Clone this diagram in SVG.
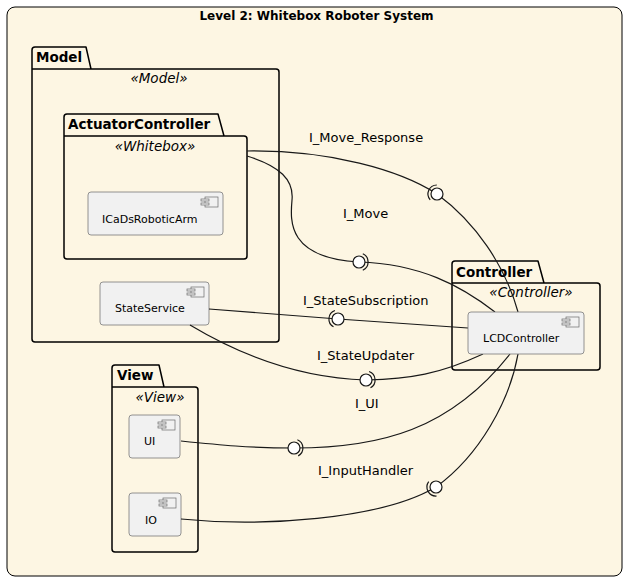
<svg xmlns="http://www.w3.org/2000/svg" width="629" height="581" viewBox="0 0 629 581">
<style>
.pkg{fill:none;stroke:#000;stroke-width:1.5;stroke-linejoin:round}
.comp{fill:#F1F1F1;stroke:#7a7a7a;stroke-width:0.8}
.icon rect{fill:#F1F1F1;stroke:#6a6a6a;stroke-width:0.7}
.pn{font-family:"DejaVu Sans",sans-serif;font-weight:bold;font-size:13.5px;fill:#000}
.st{font-family:"DejaVu Sans",sans-serif;font-style:italic;font-size:13.5px;fill:#000;text-anchor:middle}
.ct{font-family:"DejaVu Sans",sans-serif;font-size:11px;fill:#000}
.lb{font-family:"DejaVu Sans",sans-serif;font-size:13px;fill:#000}
.ln{fill:none;stroke:#181818;stroke-width:1.2}
.ball{fill:#fff;stroke:#181818;stroke-width:1.2}
</style>
<defs>
<g id="icon" class="icon"><rect x="0" y="0" width="13" height="10"/><rect x="-4" y="2" width="8" height="2"/><rect x="-4" y="6" width="8" height="2"/></g>
</defs>
<rect x="7" y="7" width="615" height="569" rx="8" fill="#FDF6E3" stroke="#000" stroke-width="1"/>
<text x="316.5" y="20" text-anchor="middle" font-family="DejaVu Sans, sans-serif" font-weight="bold" font-size="12px">Level 2: Whitebox Roboter System</text>

<g id="Model">
<path class="pkg" d="M32,69 L32,50 Q32,47 35,47 L86,47 L91,69 L276,69 Q279,69 279,72 L279,339 Q279,342 276,342 L35,342 Q32,342 32,339 Z M32,69 L91,69"/>
<text class="pn" x="36" y="62">Model</text>
<text class="st" x="159" y="83">«Model»</text>
</g>
<g id="ActuatorController">
<path class="pkg" d="M64,136 L64,117 Q64,114 67,114 L218,114 L224,136 L244,136 Q247,136 247,139 L247,256 Q247,259 244,259 L67,259 Q64,259 64,256 Z M64,136 L224,136"/>
<text class="pn" x="68" y="129">ActuatorController</text>
<text class="st" x="155" y="151">«Whitebox»</text>
</g>
<g id="ICaDsRoboticArm">
<rect class="comp" x="88" y="192" width="135" height="43" rx="3"/>
<use href="#icon" x="205" y="197"/>
<text class="ct" x="102" y="223">ICaDsRoboticArm</text>
</g>
<g id="StateService">
<rect class="comp" x="100" y="282" width="109" height="43" rx="3"/>
<use href="#icon" x="191" y="287"/>
<text class="ct" x="115" y="312">StateService</text>
</g>
<g id="View">
<path class="pkg" d="M112,387 L112,368 Q112,365 115,365 L159,365 L164,387 L195,387 Q198,387 198,390 L198,549 Q198,552 195,552 L115,552 Q112,552 112,549 Z M112,387 L164,387"/>
<text class="pn" x="117" y="380">View</text>
<text class="st" x="160" y="402">«View»</text>
</g>
<g id="UI">
<rect class="comp" x="129" y="415" width="51" height="43" rx="3"/>
<use href="#icon" x="162" y="420"/>
<text class="ct" x="144" y="445">UI</text>
</g>
<g id="IO">
<rect class="comp" x="129" y="493" width="52" height="43" rx="3"/>
<use href="#icon" x="163" y="498"/>
<text class="ct" x="145" y="524">IO</text>
</g>
<g id="Controller">
<path class="pkg" d="M452,283 L452,264 Q452,261 455,261 L538,261 L544,283 L597,283 Q600,283 600,286 L600,367 Q600,370 597,370 L455,370 Q452,370 452,367 Z M452,283 L544,283"/>
<text class="pn" x="456" y="277">Controller</text>
<text class="st" x="531" y="297">«Controller»</text>
</g>

<g id="connectors">
<!-- I_Move_Response -->
<path class="ln" d="M247,151 C330,150 400,170 437,194"/>
<path class="ln" d="M437,194 C475,222 505,265 518,312"/>
<path class="ln" d="M430.2,199.9 A9,9 0 0 1 436.8,185"/>
<circle class="ball" cx="437" cy="194" r="6"/>
<text class="lb" x="309" y="142">I_Move_Response</text>
<!-- I_Move -->
<path class="ln" d="M247,156 C280,166 294,180 292,200 C290,222 288,258 359,262"/>
<path class="ln" d="M359,262 C420,264 460,285 495,312"/>
<path class="ln" d="M362.8,253.8 A9,9 0 0 1 362.8,270.2"/>
<circle class="ball" cx="359" cy="262" r="6"/>
<text class="lb" x="343" y="218">I_Move</text>
<!-- I_StateSubscription -->
<path class="ln" d="M209,309 L338,319 L468,328"/>
<path class="ln" d="M333.5,326.8 A9,9 0 0 1 334.9,310.5"/>
<circle class="ball" cx="338" cy="319" r="6"/>
<text class="lb" x="303" y="305">I_StateSubscription</text>
<!-- I_StateUpdater -->
<path class="ln" d="M190,325 C240,355 300,378 366,380"/>
<path class="ln" d="M366,380 C410,379 440,374 483,354"/>
<path class="ln" d="M369.1,371.5 A9,9 0 0 1 370.5,387.8"/>
<circle class="ball" cx="366" cy="380" r="6"/>
<text class="lb" x="317" y="360">I_StateUpdater</text>
<!-- I_UI -->
<path class="ln" d="M181,441 C220,445 250,448 294,448"/>
<path class="ln" d="M294,448 C380,448 450,430 510,354"/>
<path class="ln" d="M297.4,439.7 A9,9 0 0 1 298.2,455.9"/>
<circle class="ball" cx="294" cy="448" r="6"/>
<text class="lb" x="355" y="408">I_UI</text>
<!-- I_InputHandler -->
<path class="ln" d="M181,519 C260,527 380,520 436,487"/>
<path class="ln" d="M436,487 C480,455 510,400 518,354"/>
<path class="ln" d="M436.6,496 A9,9 0 0 1 428.7,481.7"/>
<circle class="ball" cx="436" cy="487" r="6"/>
<text class="lb" x="318" y="475">I_InputHandler</text>
</g>

<g id="LCDController">
<rect class="comp" x="468" y="312" width="116" height="42" rx="3"/>
<use href="#icon" x="566" y="317"/>
<text class="ct" x="483" y="342">LCDController</text>
</g>
</svg>
